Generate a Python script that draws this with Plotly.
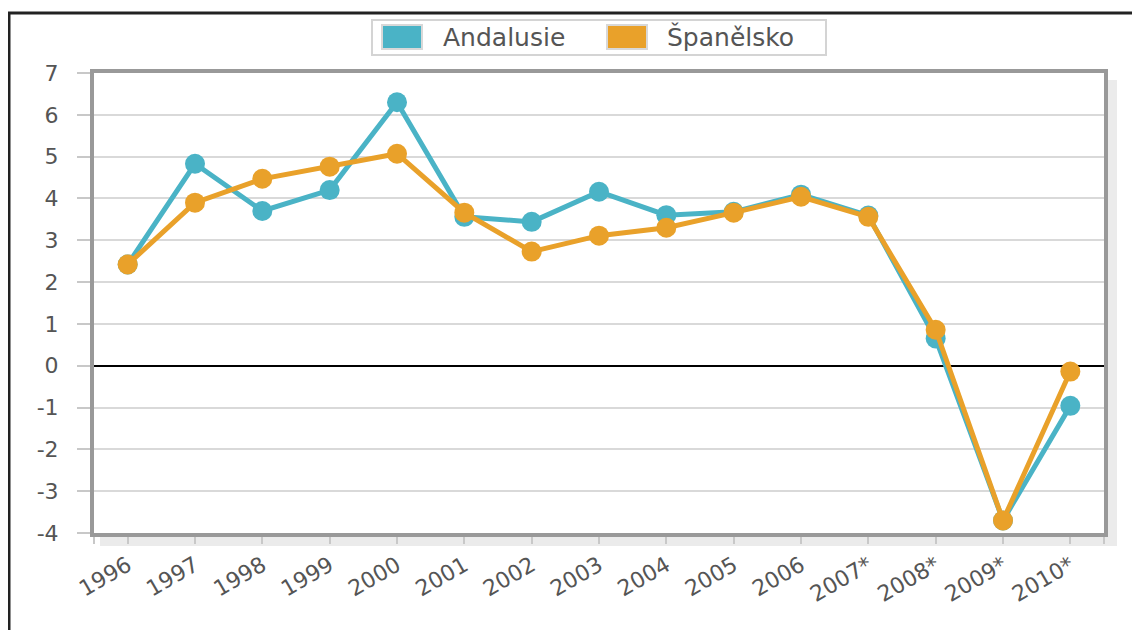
"""
Wykres porównawczy tempa wzrostu: Andalusie vs. Španělsko.
Zaimplementowany za pomocą niskopoziomowego graph_objects.
"""

from __future__ import annotations
import plotly.graph_objects as go
import pandas as pd

ODSTEP = 8  # margines body strony w przeglądarce
SZER, WYS = 1140 - ODSTEP, 630 - ODSTEP
MARGINES = dict(l=86, r=36, t=65, b=97)


def px_x(px: float) -> float:
    """Zamienia piksel poziomy ekranu na współrzędną 'paper'."""
    return (px - ODSTEP - MARGINES["l"]) / (SZER - MARGINES["l"] - MARGINES["r"])


def px_y(py: float) -> float:
    """Zamienia piksel pionowy ekranu na współrzędną 'paper'."""
    return (WYS - MARGINES["b"] - (py - ODSTEP)) / (WYS - MARGINES["t"] - MARGINES["b"])


class KreatorWykresow:
    """Fabryka generująca wykres liniowy z ręczną legendą."""

    @staticmethod
    def wykres_wzrostu(df: pd.DataFrame) -> go.Figure:
        """Tworzy wykres liniowy dwóch serii z markerami."""
        fig = go.Figure()
        idx = list(range(len(df)))

        for kolumna, kolor in [("Andalusie", "#4AB3C6"), ("Španělsko", "#E9A12A")]:
            fig.add_trace(go.Scatter(
                x=idx,
                y=df[kolumna],
                mode="lines+markers",
                line=dict(color=kolor, width=5),
                marker=dict(color=kolor, size=20),
                name=kolumna,
                showlegend=False
            ))

        ksztalty = [
            # cień ramki
            dict(type="rect", xref="paper", yref="paper",
                 x0=px_x(1106), x1=px_x(1117), y0=px_y(546), y1=px_y(80),
                 fillcolor="rgba(0,0,0,0.08)", line_width=0, layer="below"),
            dict(type="rect", xref="paper", yref="paper",
                 x0=px_x(100), x1=px_x(1106), y0=px_y(546), y1=px_y(535),
                 fillcolor="rgba(0,0,0,0.08)", line_width=0, layer="below"),
            # zewnętrzna ramka
            dict(type="line", xref="paper", yref="paper",
                 x0=px_x(8), x1=px_x(1140), y0=px_y(13), y1=px_y(13),
                 line=dict(color="#222", width=3)),
            dict(type="line", xref="paper", yref="paper",
                 x0=px_x(9), x1=px_x(9), y0=px_y(13), y1=px_y(630),
                 line=dict(color="#222", width=3)),
            # legenda
            dict(type="rect", xref="paper", yref="paper",
                 x0=px_x(372), x1=px_x(826), y0=px_y(55), y1=px_y(20),
                 fillcolor="white", line=dict(color="#d4d4d4", width=2)),
            dict(type="rect", xref="paper", yref="paper",
                 x0=px_x(382), x1=px_x(422), y0=px_y(49), y1=px_y(25),
                 fillcolor="#4AB3C6", line=dict(color="#d8d8d8", width=2)),
            dict(type="rect", xref="paper", yref="paper",
                 x0=px_x(607), x1=px_x(647), y0=px_y(49), y1=px_y(25),
                 fillcolor="#E9A12A", line=dict(color="#d8d8d8", width=2)),
        ]

        popisy = [
            dict(text=t, x=px_x(x0), y=px_y(37), xref="paper", yref="paper",
                 xanchor="left", yanchor="middle", showarrow=False,
                 font=dict(size=25, color="#555"))
            for t, x0 in [("Andalusie", 441), ("Španělsko", 665)]
        ]

        fig.update_layout(
            width=SZER,
            height=WYS,
            margin=MARGINES,
            template="plotly_white",
            paper_bgcolor="white",
            plot_bgcolor="white",
            font=dict(family="DejaVu Sans", color="#555"),
            shapes=ksztalty,
            annotations=popisy,
            xaxis=dict(
                range=[-0.5, len(df) - 0.5],
                tickmode="array",
                tickvals=[-0.5] + idx + [len(df) - 0.5],
                ticktext=[""] + list(df["rok"]) + [""],
                tickangle=-30,
                ticks="outside", ticklen=7, tickwidth=2, tickcolor="#c8c8c8",
                showgrid=False, zeroline=False,
                showline=True, linecolor="#999", linewidth=4, mirror=True,
                tickfont=dict(size=22, color="#555")
            ),
            yaxis=dict(
                range=[-4, 7],
                tickmode="array",
                tickvals=list(range(-4, 8)),
                ticktext=[str(v) for v in range(-4, 8)],
                ticks="outside", ticklen=13, tickwidth=2, tickcolor="#c8c8c8",
                gridcolor="#d9d9d9", gridwidth=2,
                zeroline=True, zerolinecolor="black", zerolinewidth=2,
                showline=True, linecolor="#999", linewidth=4, mirror=True,
                ticklabelstandoff=14,
                tickfont=dict(size=22, color="#555")
            )
        )
        return fig


dane = pd.DataFrame({
    "rok": ["1996", "1997", "1998", "1999", "2000", "2001", "2002", "2003",
            "2004", "2005", "2006", "2007*", "2008*", "2009*", "2010*"],
    "Andalusie": [2.42, 4.83, 3.7, 4.2, 6.3, 3.56, 3.44, 4.16,
                  3.6, 3.68, 4.09, 3.59, 0.65, -3.7, -0.96],
    "Španělsko": [2.42, 3.9, 4.47, 4.76, 5.07, 3.66, 2.73, 3.11,
                  3.3, 3.66, 4.04, 3.56, 0.86, -3.7, -0.14],
})

fig = KreatorWykresow.wykres_wzrostu(dane)
fig.write_html("out.html")
